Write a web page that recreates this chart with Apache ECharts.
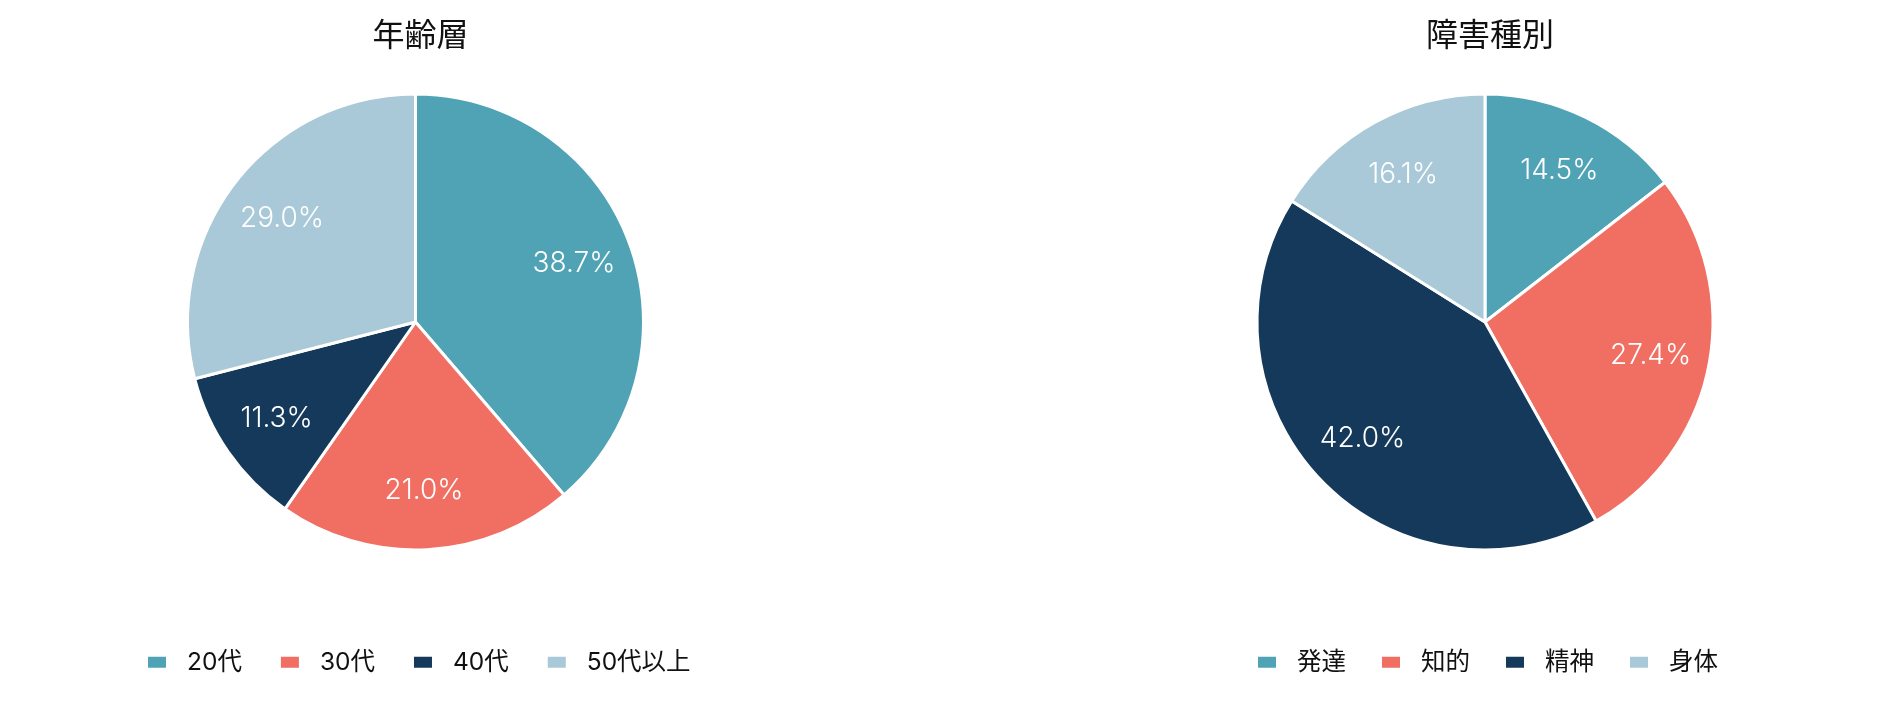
<!DOCTYPE html>
<html><head><meta charset="utf-8">
<script src="https://cdn.jsdelivr.net/npm/echarts@6/dist/echarts.min.js"></script>
<style>html,body{margin:0;padding:0;background:#fff}#c{width:1900px;height:702px}</style>
</head><body><div id="c"></div>
<script>
const colors = ['#50A3B5', '#F06E62', '#15395A', '#A9C8D8'];
const ageTitle = '年齢層';
const ageCategories = ['20代', '30代', '40代', '50代以上'];
const ageValues = [38.7, 21.0, 11.3, 29.0];
const typeTitle = '障害種別';
const typeCategories = ['発達', '知的', '精神', '身体'];
const typeValues = [14.5, 27.4, 42.0, 16.1];

const FONT = 'Inter, "Noto Sans CJK JP", sans-serif';
const TFONT = '"Noto Sans CJK JP", sans-serif';
const centers = [[415.5, 322], [1485, 322]];
const R = 228;

function pieSeries(names, values, center) {
  const data = names.map((n, i) => ({ name: n, value: values[i] }));
  return [
    {
      type: 'pie', center: center, radius: [0, R], startAngle: 90, clockwise: true,
      data: data, label: { show: false }, labelLine: { show: false },
      itemStyle: { borderColor: '#fff', borderWidth: 3 }, emphasis: { disabled: true }
    },
    {
      type: 'pie', center: center, radius: [100, 232], startAngle: 90, clockwise: true,
      data: data, silent: true, legendHoverLink: false,
      itemStyle: { color: 'transparent', borderWidth: 0 },
      label: { show: true, position: 'inside', formatter: p => p.value.toFixed(1) + '%',
               color: '#fff', fontSize: 28, fontWeight: 300, fontFamily: FONT },
      labelLine: { show: false }, emphasis: { disabled: true }
    }
  ];
}

function legend(names, left, gap) {
  return {
    data: names, left: left, top: 645, orient: 'horizontal',
    icon: 'rect', itemWidth: 20, itemHeight: 13, itemGap: gap,
    textStyle: { fontSize: 24.5, fontFamily: FONT, color: '#111', padding: [0, 0, 0, 15] },
    selectedMode: false
  };
}

const chart = echarts.init(document.getElementById('c'), null, { renderer: 'canvas' });
chart.setOption({
  animation: false,
  color: colors,
  title: [
    { text: ageTitle, left: centers[0][0], top: 13, textAlign: 'center',
      textStyle: { fontSize: 32, fontWeight: 'normal', fontFamily: TFONT, color: '#111' } },
    { text: typeTitle, left: centers[1][0], top: 13, textAlign: 'center',
      textStyle: { fontSize: 32, fontWeight: 'normal', fontFamily: TFONT, color: '#111' } }
  ],
  legend: [legend(ageCategories, 141, 37), legend(typeCategories, 1251, 34)],
  series: [].concat(pieSeries(ageCategories, ageValues, centers[0]),
                    pieSeries(typeCategories, typeValues, centers[1]))
});
</script></body></html>
